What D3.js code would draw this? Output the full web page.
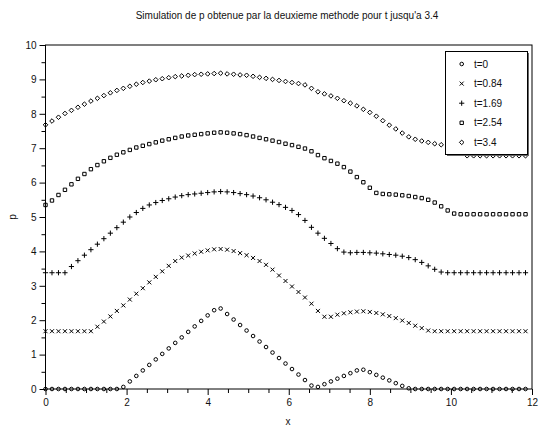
<!DOCTYPE html>
<html>
<head>
<meta charset="utf-8">
<script src="https://cdn.jsdelivr.net/npm/d3@7"></script>
<style>
  body { margin: 0; background: #fff; }
  svg { display: block; font-family: "Liberation Sans", Arial, sans-serif; }
</style>
</head>
<body>
<script>
// grid x = 0:0.16:11.84 (75 points)
const xStep = 0.16;
const nPoints = 75;

const seriesLabels = ["t=0", "t=0.84", "t=1.69", "t=2.54", "t=3.4"];

// p values, one per grid point
const p0 = [0, 0, 0, 0, 0, 0, 0, 0, 0, 0, 0, 0,
  0.06, 0.22, 0.38, 0.54, 0.70, 0.86, 1.02, 1.18, 1.34, 1.50, 1.66, 1.82, 1.98, 2.14, 2.29, 2.34,
  2.18, 2.02, 1.86, 1.70, 1.54, 1.38, 1.22, 1.06, 0.90, 0.74, 0.58, 0.42, 0.26, 0.10, 0.06,
  0.14, 0.22, 0.30, 0.38, 0.46, 0.54, 0.56, 0.49, 0.41, 0.33, 0.25, 0.17, 0.09, 0.02,
  0, 0, 0, 0, 0, 0, 0, 0, 0, 0, 0, 0, 0, 0, 0, 0, 0, 0];

const p1 = [1.68, 1.68, 1.68, 1.68, 1.68, 1.68, 1.68, 1.68,
  1.81, 1.96, 2.11, 2.27, 2.43, 2.60, 2.77, 2.93, 3.10, 3.26, 3.42, 3.58, 3.72, 3.82, 3.88, 3.94,
  3.99, 4.03, 4.06, 4.07, 4.05, 4.01, 3.95, 3.89, 3.81, 3.72, 3.61, 3.47, 3.30, 3.14, 2.98, 2.82,
  2.66, 2.48, 2.27, 2.10, 2.10, 2.16, 2.20, 2.23, 2.25, 2.26, 2.24, 2.21, 2.17, 2.12, 2.06, 1.99,
  1.92, 1.84, 1.77, 1.70,
  1.68, 1.68, 1.68, 1.68, 1.68, 1.68, 1.68, 1.68, 1.68, 1.68, 1.68, 1.68, 1.68, 1.68, 1.68];

const p2 = [3.38, 3.38, 3.38, 3.38,
  3.56, 3.73, 3.89, 4.05, 4.21, 4.37, 4.53, 4.69, 4.85, 5.00, 5.13, 5.25, 5.35, 5.42, 5.48, 5.53,
  5.58, 5.62, 5.65, 5.67, 5.69, 5.71, 5.73, 5.74, 5.73, 5.71, 5.68, 5.65, 5.61, 5.56, 5.50, 5.43,
  5.36, 5.28, 5.19, 5.07, 4.90, 4.70, 4.53, 4.38, 4.23, 4.08, 3.98, 3.96, 3.97, 3.97, 3.96, 3.95,
  3.93, 3.91, 3.89, 3.86, 3.82, 3.76, 3.68, 3.58, 3.48, 3.40,
  3.38, 3.38, 3.38, 3.38, 3.38, 3.38, 3.38, 3.38, 3.38, 3.38, 3.38, 3.38, 3.38];

const p3 = [5.35, 5.48, 5.64, 5.79, 5.95, 6.11, 6.25, 6.39, 6.51, 6.62, 6.72, 6.81, 6.88, 6.95,
  7.02, 7.07, 7.12, 7.17, 7.22, 7.26, 7.30, 7.34, 7.37, 7.39, 7.41, 7.43, 7.45, 7.46, 7.45, 7.43,
  7.41, 7.38, 7.34, 7.30, 7.26, 7.22, 7.18, 7.13, 7.09, 7.04, 6.99, 6.91, 6.80, 6.71, 6.63, 6.55,
  6.45, 6.32, 6.16, 6.01, 5.85, 5.70, 5.67, 5.66, 5.65, 5.63, 5.61, 5.58, 5.55, 5.50, 5.42, 5.31,
  5.19, 5.10,
  5.08, 5.08, 5.08, 5.08, 5.08, 5.08, 5.08, 5.08, 5.08, 5.08, 5.08];

const p4 = [7.68, 7.79, 7.90, 8.01, 8.10, 8.19, 8.28, 8.37, 8.45, 8.53, 8.61, 8.68, 8.74, 8.80,
  8.86, 8.91, 8.95, 8.99, 9.02, 9.05, 9.08, 9.10, 9.12, 9.14, 9.15, 9.16, 9.17, 9.18, 9.16, 9.15,
  9.13, 9.12, 9.09, 9.06, 9.03, 9.00, 8.97, 8.94, 8.91, 8.88, 8.84, 8.74, 8.64, 8.58, 8.52, 8.45,
  8.38, 8.31, 8.23, 8.13, 8.04, 7.93, 7.80, 7.67, 7.56, 7.44, 7.33, 7.26, 7.21, 7.17, 7.13, 7.10,
  7.05, 6.95, 6.86,
  6.78, 6.78, 6.78, 6.78, 6.78, 6.78, 6.78, 6.78, 6.78, 6.78];

const xTickLabels = [0, 2, 4, 6, 8, 10, 12];
const yTickLabels = [0, 1, 2, 3, 4, 5, 6, 7, 8, 9, 10];

const allSeries = [p0, p1, p2, p3, p4];

// marker shapes (scilab style: o, x, +, square, diamond)
const markerCircle = { draw(ctx, s) { ctx.moveTo(s, 0); ctx.arc(0, 0, s, 0, 2 * Math.PI); } };
const markerTimes = { draw(ctx, s) { ctx.moveTo(-s, -s); ctx.lineTo(s, s); ctx.moveTo(-s, s); ctx.lineTo(s, -s); } };
const markerPlus = { draw(ctx, s) { ctx.moveTo(-s, 0); ctx.lineTo(s, 0); ctx.moveTo(0, -s); ctx.lineTo(0, s); } };
const markerSquare = { draw(ctx, s) { ctx.rect(-s, -s, 2 * s, 2 * s); } };
const markerDiamond = { draw(ctx, s) { ctx.moveTo(0, -s); ctx.lineTo(s, 0); ctx.lineTo(0, s); ctx.lineTo(-s, 0); ctx.closePath(); } };
const markers = [
  { type: markerCircle, size: 1.8 },
  { type: markerTimes, size: 2.0 },
  { type: markerPlus, size: 2.6 },
  { type: markerSquare, size: 1.7 },
  { type: markerDiamond, size: 2.3 }
];

const width = 539, height = 426;
const svg = d3.select('body').append('svg')
    .attr('width', width)
    .attr('height', height);

svg.append('rect').attr('width', width).attr('height', height).attr('fill', '#fff');

const x = d3.scaleLinear().domain([0, 12]).range([45.5, 532]);
const y = d3.scaleLinear().domain([0, 10]).range([389, 45]);

// title
svg.append('text')
    .attr('x', 287)
    .attr('y', 18.5)
    .attr('text-anchor', 'middle')
    .attr('font-size', 10)
    .attr('fill', '#111')
    .text("Simulation de p obtenue par la deuxieme methode pour t jusqu'a 3.4");

// minor ticks every 0.5
const minorX = d3.range(0, 12.01, 0.5).filter(v => v % 2 !== 0);
const minorY = d3.range(0, 10.01, 0.5).filter(v => v % 1 !== 0);

const xAxisMinor = svg.append('g')
    .attr('transform', 'translate(0,389)')
    .call(d3.axisBottom(x).tickValues(minorX).tickSize(4).tickFormat(''));
const xAxis = svg.append('g')
    .attr('transform', 'translate(0,389)')
    .call(d3.axisBottom(x).tickValues(xTickLabels).tickSize(6).tickPadding(4).tickFormat(d3.format('d')));
const yAxisMinor = svg.append('g')
    .attr('transform', 'translate(45.5,0)')
    .call(d3.axisLeft(y).tickValues(minorY).tickSize(4).tickFormat(''));
const yAxis = svg.append('g')
    .attr('transform', 'translate(45.5,0)')
    .call(d3.axisLeft(y).tickValues(yTickLabels).tickSize(6).tickPadding(3).tickFormat(d3.format('d')));

[xAxisMinor, xAxis, yAxisMinor, yAxis].forEach(g => {
  g.select('.domain').remove();
  g.selectAll('line').attr('stroke', '#000');
  g.selectAll('text').attr('font-size', 10).attr('fill', '#111')
      .attr('font-family', '"Liberation Sans", Arial, sans-serif');
});

// frame
svg.append('rect')
    .attr('x', 45.5).attr('y', 45)
    .attr('width', 532 - 45.5).attr('height', 389 - 45)
    .attr('fill', 'none')
    .attr('stroke', '#000');

// axis titles
svg.append('text')
    .attr('x', 288).attr('y', 425)
    .attr('text-anchor', 'middle')
    .attr('font-size', 10).attr('fill', '#111')
    .text('x');
svg.append('text')
    .attr('transform', 'translate(16,217) rotate(-90)')
    .attr('text-anchor', 'middle')
    .attr('font-size', 10).attr('fill', '#111')
    .text('p');

// markers
allSeries.forEach((vals, k) => {
  const sym = d3.symbol().type(markers[k].type).size(markers[k].size);
  svg.append('g')
      .selectAll('path')
      .data(vals)
      .enter()
      .append('path')
      .attr('transform', (d, i) => `translate(${x(i * xStep)},${y(d)})`)
      .attr('d', sym)
      .attr('fill', 'none')
      .attr('stroke', '#000')
      .attr('stroke-width', 1);
});

// legend
const legend = svg.append('g');
legend.append('rect')
    .attr('x', 447).attr('y', 53)
    .attr('width', 82).attr('height', 103)
    .attr('fill', '#666');
legend.append('rect')
    .attr('x', 445.5).attr('y', 51.5)
    .attr('width', 82).attr('height', 103)
    .attr('fill', '#fff')
    .attr('stroke', '#000');

const legendRows = legend.selectAll('.row')
    .data(seriesLabels)
    .enter()
    .append('g')
    .classed('row', true)
    .attr('transform', (d, i) => `translate(0,${64 + i * 19.6})`);
legendRows.append('path')
    .attr('transform', 'translate(461.7,0)')
    .attr('d', (d, i) => d3.symbol().type(markers[i].type).size(markers[i].size)())
    .attr('fill', 'none')
    .attr('stroke', '#000')
    .attr('stroke-width', 1);
legendRows.append('text')
    .attr('x', 474)
    .attr('y', 3.6)
    .attr('font-size', 10)
    .attr('fill', '#111')
    .text(d => d);
</script>
</body>
</html>
